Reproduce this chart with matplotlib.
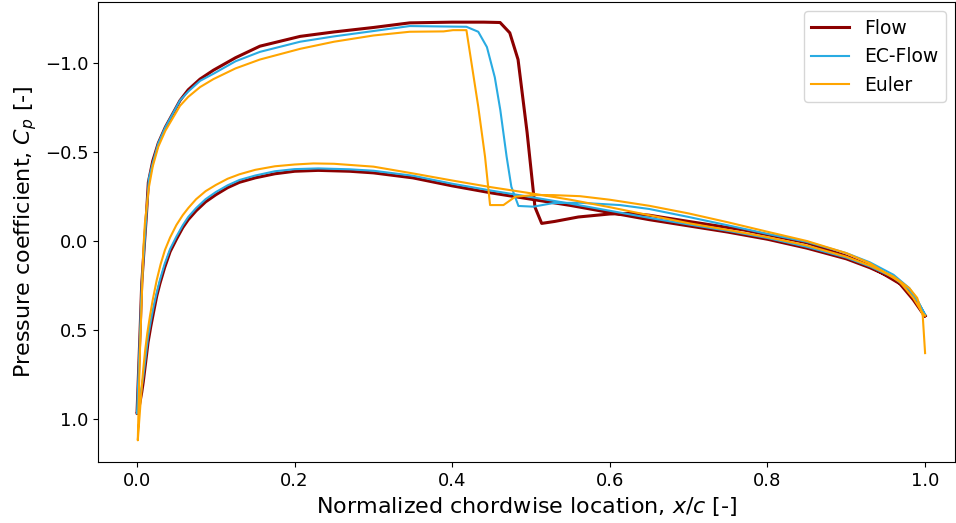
import matplotlib
matplotlib.use("Agg")
import matplotlib.pyplot as plt

# Flow (upper surface, leading edge -> trailing edge)
flow_x_upper = [0.0, 0.0038, 0.006, 0.0089, 0.012, 0.0144, 0.02, 0.027, 0.036, 0.0546,
                0.065, 0.08, 0.097, 0.125, 0.156, 0.207, 0.25, 0.3, 0.346, 0.4, 0.44,
                0.4607, 0.473, 0.4835, 0.495, 0.505, 0.5135, 0.53, 0.56, 0.6, 0.626,
                0.65, 0.7, 0.77, 0.85, 0.9, 0.93, 0.968, 0.985, 0.996, 1.0]
flow_cp_upper = [0.97, 0.52, 0.24, 0.05, -0.15, -0.33, -0.45, -0.55, -0.64, -0.79,
                 -0.85, -0.91, -0.96, -1.03, -1.095, -1.15, -1.175, -1.20, -1.226, -1.23, -1.23,
                 -1.228, -1.17, -1.02, -0.61, -0.19, -0.099, -0.11, -0.135, -0.152, -0.155,
                 -0.145, -0.11, -0.062, 0.01, 0.085, 0.14, 0.24, 0.33, 0.40, 0.42]
# Flow (lower surface)
flow_x_lower = [0.0, 0.002, 0.004, 0.006, 0.008, 0.011, 0.014, 0.0175, 0.021, 0.025,
                0.029, 0.035, 0.042, 0.05, 0.058, 0.065, 0.075, 0.087, 0.1, 0.115, 0.13,
                0.15, 0.175, 0.2, 0.23, 0.27, 0.3, 0.35, 0.4, 0.45, 0.5, 0.55, 0.6, 0.65,
                0.7, 0.75, 0.8, 0.85, 0.9, 0.93, 0.96, 0.98, 0.99, 1.0]
flow_cp_lower = [0.97, 0.95, 0.9, 0.85, 0.79, 0.68, 0.57, 0.48, 0.40, 0.31,
                 0.24, 0.15, 0.06, -0.01, -0.075, -0.12, -0.17, -0.22, -0.26, -0.3, -0.33,
                 -0.355, -0.378, -0.392, -0.397, -0.392, -0.383, -0.355, -0.31, -0.27, -0.235,
                 -0.2, -0.16, -0.12, -0.085, -0.05, -0.01, 0.04, 0.1, 0.15, 0.21, 0.28, 0.34,
                 0.42]

# EC-Flow
ecflow_x_upper = [0.0, 0.0038, 0.006, 0.009, 0.015, 0.02, 0.027, 0.036, 0.0546, 0.065,
                  0.08, 0.097, 0.125, 0.156, 0.207, 0.25, 0.3, 0.346, 0.418, 0.433, 0.444,
                  0.454, 0.461, 0.469, 0.475, 0.484, 0.503, 0.528, 0.562, 0.613, 0.65, 0.7,
                  0.75, 0.8, 0.85, 0.9, 0.93, 0.96, 0.98, 0.99, 1.0]
ecflow_cp_upper = [0.97, 0.52, 0.24, 0.05, -0.35, -0.44, -0.55, -0.64, -0.79, -0.84,
                   -0.9, -0.94, -1.01, -1.063, -1.12, -1.15, -1.18, -1.208, -1.204, -1.176, -1.09,
                   -0.92, -0.736, -0.474, -0.305, -0.197, -0.193, -0.213, -0.215, -0.202, -0.18,
                   -0.135, -0.088, -0.04, 0.005, 0.068, 0.12, 0.19, 0.265, 0.33, 0.415]
ecflow_x_lower = flow_x_lower
ecflow_cp_lower = [0.97, 0.94, 0.88, 0.82, 0.76, 0.65, 0.54, 0.45, 0.37, 0.29,
                   0.22, 0.13, 0.045, -0.025, -0.088, -0.135, -0.185, -0.235, -0.275, -0.313,
                   -0.343, -0.368, -0.392, -0.404, -0.408, -0.403, -0.395, -0.367, -0.322,
                   -0.283, -0.247, -0.21, -0.17, -0.13, -0.093, -0.057, -0.017, 0.033, 0.093,
                   0.143, 0.205, 0.275, 0.335, 0.415]

# Euler
euler_x_upper = [0.001, 0.0038, 0.006, 0.008, 0.01, 0.015, 0.02, 0.027, 0.036, 0.0546,
                 0.065, 0.08, 0.097, 0.125, 0.156, 0.207, 0.25, 0.3, 0.346, 0.389, 0.401,
                 0.418, 0.433, 0.4416, 0.448, 0.465, 0.48, 0.503, 0.528, 0.562, 0.6, 0.65,
                 0.7, 0.75, 0.8, 0.85, 0.9, 0.93, 0.968, 0.985, 0.996, 1.0]
euler_cp_upper = [1.12, 0.61, 0.33, 0.05, -0.1, -0.3, -0.42, -0.53, -0.62, -0.76,
                  -0.81, -0.865, -0.91, -0.97, -1.02, -1.08, -1.12, -1.155, -1.176, -1.178,
                  -1.185, -1.185, -0.755, -0.474, -0.202, -0.202, -0.249, -0.258, -0.258,
                  -0.252, -0.232, -0.198, -0.155, -0.105, -0.052, 0.0, 0.068, 0.125, 0.23,
                  0.32, 0.40, 0.42]
euler_x_lower = [0.001, 0.003, 0.005, 0.0075, 0.0102, 0.013, 0.0165, 0.02, 0.025, 0.03,
                 0.0355, 0.042, 0.05, 0.058, 0.065, 0.075, 0.087, 0.1, 0.115, 0.13, 0.15,
                 0.175, 0.2, 0.224, 0.25, 0.3, 0.35, 0.4, 0.45, 0.5, 0.55, 0.6, 0.65, 0.7,
                 0.75, 0.8, 0.85, 0.9, 0.93, 0.96, 0.98, 0.99, 0.997, 1.0]
euler_cp_lower = [1.12, 1.0, 0.88, 0.74, 0.62, 0.52, 0.42, 0.33, 0.22, 0.13,
                  0.05, -0.02, -0.09, -0.145, -0.185, -0.235, -0.28, -0.315, -0.35, -0.375,
                  -0.4, -0.42, -0.43, -0.436, -0.434, -0.418, -0.38, -0.34, -0.302, -0.268,
                  -0.232, -0.19, -0.145, -0.1, -0.062, -0.022, 0.025, 0.088, 0.138, 0.2,
                  0.265, 0.32, 0.42, 0.63]

series = [
    ("Flow", flow_x_upper, flow_cp_upper, flow_x_lower, flow_cp_lower, "#8b0000", 2.2),
    ("EC-Flow", ecflow_x_upper, ecflow_cp_upper, ecflow_x_lower, ecflow_cp_lower, "#29abe2", 1.5),
    ("Euler", euler_x_upper, euler_cp_upper, euler_x_lower, euler_cp_lower, "#ffa500", 1.5),
]

fig = plt.figure(figsize=(9.56, 5.23), dpi=100)
ax = fig.add_axes([0.1025, 0.1166, 0.8965, 0.8795])

for name, xu, cu, xl, cl, color, lw in series:
    # trailing edge -> upper surface -> leading edge -> lower surface -> trailing edge
    xs = list(reversed(xu)) + list(xl)
    cs = list(reversed(cu)) + list(cl)
    ax.plot(xs, cs, color=color, lw=lw, label=name)

ax.set_xlim(-0.0495, 1.038)
ax.set_ylim(1.242, -1.343)
ax.set_xticks([0.0, 0.2, 0.4, 0.6, 0.8, 1.0])
ax.set_yticks([-1.0, -0.5, 0.0, 0.5, 1.0])
ax.tick_params(labelsize=13)
ax.set_xlabel("Normalized chordwise location, $x/c$ [-]", fontsize=16)
ax.set_ylabel("Pressure coefficient, $C_p$ [-]", fontsize=16)
ax.legend(loc="upper right", fontsize=13.5)

fig.savefig("out.png", dpi=100)
